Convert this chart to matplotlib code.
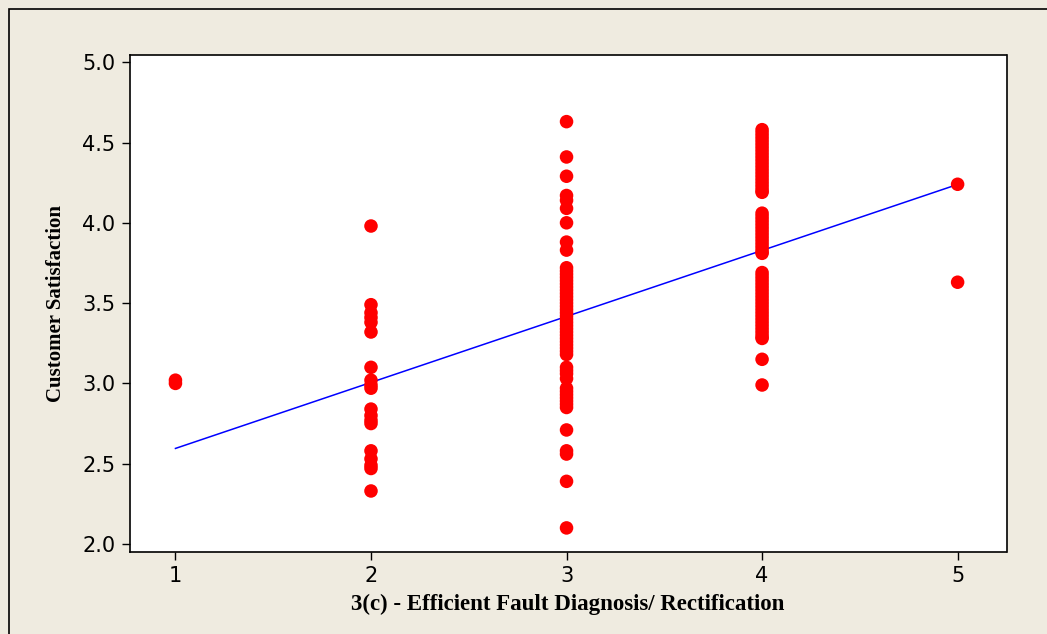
import matplotlib
matplotlib.use("Agg")
import matplotlib.pyplot as plt
from matplotlib.patches import Rectangle
import numpy as np

# scores, one list per rating of 3(c)
sat_1 = [3.00, 3.02]
sat_2 = [3.98, 3.49, 3.44, 3.41, 3.38, 3.32, 3.10, 3.02, 2.99, 2.97, 2.84, 2.80, 2.77,
         2.75, 2.58, 2.53, 2.49, 2.47, 2.33]
sat_3 = [4.63, 4.41, 4.29, 4.17, 4.14, 4.09, 4.00, 3.88, 3.83,
         3.72, 3.70, 3.68, 3.66, 3.64, 3.62, 3.60, 3.58, 3.56, 3.54, 3.52, 3.50,
         3.48, 3.46, 3.44, 3.42, 3.40, 3.38, 3.36, 3.34, 3.32, 3.30, 3.28, 3.26,
         3.24, 3.22, 3.20, 3.18,
         3.10, 3.08, 3.06, 3.03, 2.97, 2.95, 2.93, 2.91, 2.89, 2.87, 2.85,
         2.71, 2.58, 2.56, 2.39, 2.10]
sat_4 = [4.58, 4.56, 4.54, 4.52, 4.50, 4.48, 4.46, 4.44, 4.42, 4.40, 4.38, 4.36, 4.34,
         4.32, 4.30, 4.28, 4.26, 4.24, 4.22, 4.20, 4.19,
         4.06, 4.04, 4.02, 4.00, 3.98, 3.96, 3.94, 3.92, 3.90, 3.88, 3.86, 3.84, 3.82, 3.81,
         3.69, 3.67, 3.65, 3.63, 3.61, 3.59, 3.57, 3.55, 3.53, 3.51, 3.49, 3.47, 3.45,
         3.43, 3.41, 3.39, 3.37, 3.35, 3.33, 3.31, 3.29, 3.28,
         3.15, 2.99]
sat_5 = [4.24, 3.63]
ratings = [1, 2, 3, 4, 5]
groups = [sat_1, sat_2, sat_3, sat_4, sat_5]

# fitted line
intercept = 2.184
slope = 0.411

x_ticks = [1, 2, 3, 4, 5]
y_ticks = [2.0, 2.5, 3.0, 3.5, 4.0, 4.5, 5.0]

bg = "#efebe0"
fig = plt.figure(figsize=(10.47, 6.34), dpi=100, facecolor=bg)
ax = fig.add_axes([129.5 / 1047, 1 - 552 / 634, (1006.5 - 129.5) / 1047, (552 - 55) / 634])

xs = []
ys = []
for r, g in zip(ratings, groups):
    xs += [r] * len(g)
    ys += g
ax.scatter(xs, ys, s=95, color="#ff0000", edgecolors="none", zorder=3)

line_x = np.array([ratings[0], ratings[-1]])
ax.plot(line_x, intercept + slope * line_x, color="#0000ff", lw=1.1, zorder=2)

ax.set_xlim(0.765, 5.25)
ax.set_ylim(1.95, 5.045)
ax.set_xticks(x_ticks)
ax.set_yticks(y_ticks)
ax.set_yticklabels(["%.1f" % v for v in y_ticks])
ax.tick_params(direction="out", length=6, width=1, labelsize=15, pad=4)
for sp in ax.spines.values():
    sp.set_linewidth(1.2)

ax.set_xlabel("3(c) - Efficient Fault Diagnosis/ Rectification",
              family="Liberation Serif", fontweight="bold", fontsize=16.5, labelpad=6)
ax.set_ylabel("Customer Satisfaction",
              family="Liberation Serif", fontweight="bold", fontsize=15, labelpad=12)

# outer frame
fig.patches.append(Rectangle((9 / 1047, -0.1), 1.2, 1 - 9 / 634 + 0.1,
                             transform=fig.transFigure, fill=False,
                             edgecolor="black", lw=1.2))

fig.savefig("out.png", dpi=100, facecolor=bg)
